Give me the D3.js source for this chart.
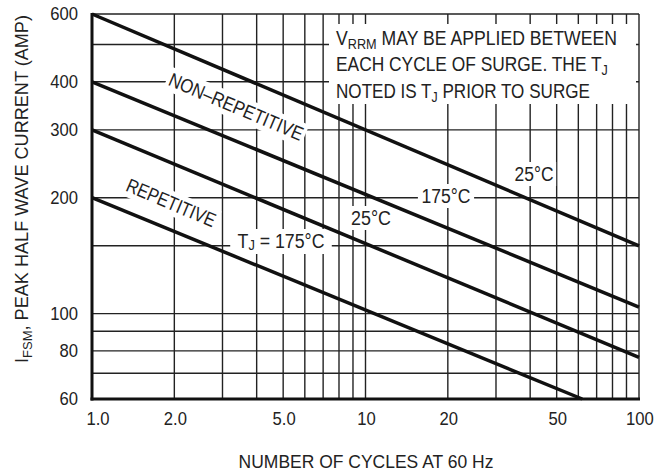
<!DOCTYPE html>
<html lang="en">
<head>
  <meta charset="UTF-8">
  <title>Peak Half Wave Current vs Cycles</title>
  <script src="https://d3js.org/d3.v7.min.js"></script>
  <style>
    body {
      margin: 0;
      background: #fff;
    }
    svg {
      display: block;
      font-family: "Liberation Sans", Arial, sans-serif;
      fill: #222;
    }
  </style>
</head>
<body>

<div id="chart"></div>

<script>
  // Data (cycles at 60 Hz, current in amps)
  const nonRep25C = [[1, 600], [100, 150]];
  const nonRep175C = [[1, 400], [100, 104]];
  const rep25C = [[1, 300], [100, 77]];
  const rep175C = [[1, 200], [62, 60]];

  const xTicks = [1, 2, 5, 10, 20, 50, 100];
  const xTickLabels = ["1.0", "2.0", "5.0", "10", "20", "50", "100"];
  const yTicks = [60, 80, 100, 200, 300, 400, 600];
  const xGrid = [1, 2, 3, 4, 5, 6, 7, 8, 9, 10, 20, 30, 40, 50, 60, 70, 80, 90, 100];
  const yGrid = [60, 70, 80, 90, 100, 150, 200, 300, 400, 500, 600];

  const width = 668, height = 472;
  const margin = {top: 14, right: 29, bottom: 73, left: 92};

  const svg = d3.select("#chart")
                .append("svg")
                .attr("width", width)
                .attr("height", height);

  const x = d3.scaleLog()
              .domain([1, 100])
              .range([margin.left, width - margin.right]);

  const y = d3.scaleLog()
              .domain([60, 600])
              .range([height - margin.bottom, margin.top]);

  // Text helper: parts are [string, isSubscript]; the text is squeezed
  // horizontally to look like the narrow datasheet font
  function addText(parent, o) {
    const g = parent.append("g");
    const t = g.append("text")
               .attr("text-anchor", o.anchor || "start")
               .attr("font-size", o.size);
    if (o.central) t.attr("dominant-baseline", "central");
    let sub = false;
    o.parts.forEach(p => {
      const s = t.append("tspan").text(p[0]);
      if (p[1]) { s.attr("font-size", o.size * 0.72).attr("dy", 4); sub = true; }
      else if (sub) { s.attr("dy", -4); sub = false; }
    });
    const b = t.node().getBBox();
    const k = o.width ? o.width / b.width : (o.squeeze || 1);
    g.attr("transform", `translate(${o.x},${o.y}) rotate(${o.rot || 0}) scale(${k},1)`);
    if (o.pad != null) {
      g.insert("rect", "text")
       .attr("x", b.x - o.pad).attr("y", b.y - 1)
       .attr("width", b.width + 2 * o.pad).attr("height", b.height + 2)
       .attr("fill", "#fff");
    }
    return g;
  }

  // Grid lines
  svg.append("g")
     .selectAll("line")
     .data(xGrid)
     .join("line")
     .attr("x1", d => x(d)).attr("x2", d => x(d))
     .attr("y1", y(60)).attr("y2", y(600))
     .attr("stroke", "#222")
     .attr("stroke-width", 1.4);

  svg.append("g")
     .selectAll("line")
     .data(yGrid)
     .join("line")
     .attr("x1", x(1)).attr("x2", x(100))
     .attr("y1", d => y(d)).attr("y2", d => y(d))
     .attr("stroke", "#222")
     .attr("stroke-width", 1.4);

  // White note box in the top right corner
  svg.append("rect")
     .attr("x", 329).attr("y", 24)
     .attr("width", 307).attr("height", 80)
     .attr("fill", "#fff");

  addText(svg, {x: 336, y: 45, size: 19.5, width: 281,
                parts: [["V"], ["RRM", true], [" MAY BE APPLIED BETWEEN"]]});
  addText(svg, {x: 336, y: 71, size: 19.5, width: 272,
                parts: [["EACH CYCLE OF SURGE. THE T"], ["J", true]]});
  addText(svg, {x: 336, y: 97.5, size: 19.5, width: 254,
                parts: [["NOTED IS T"], ["J", true], [" PRIOR TO SURGE"]]});

  // In-plot labels with white knockout boxes
  const angle = Math.atan2(y(150) - y(600), x(100) - x(1)) * 180 / Math.PI;

  addText(svg, {x: 236, y: 107, rot: angle, size: 19.5, width: 144, anchor: "middle",
                central: true, pad: 3, parts: [["NON–REPETITIVE"]]});
  addText(svg, {x: 171, y: 203, rot: angle, size: 19.5, width: 95, anchor: "middle",
                central: true, pad: 3, parts: [["REPETITIVE"]]});
  addText(svg, {x: 534, y: 174, size: 19.5, width: 39, anchor: "middle",
                central: true, pad: 3, parts: [["25°C"]]});
  addText(svg, {x: 446, y: 196, size: 19.5, width: 49, anchor: "middle",
                central: true, pad: 4, parts: [["175°C"]]});
  addText(svg, {x: 371, y: 218, size: 19.5, width: 40, anchor: "middle",
                central: true, pad: 3, parts: [["25°C"]]});
  addText(svg, {x: 281, y: 241, size: 19.5, width: 87, anchor: "middle",
                central: true, pad: 8, parts: [["T"], ["J", true], [" = 175°C"]]});

  // Curves
  const line = d3.line()
                 .x(d => x(d[0]))
                 .y(d => y(d[1]));

  svg.append("g")
     .selectAll("path")
     .data([nonRep25C, nonRep175C, rep25C, rep175C])
     .join("path")
     .attr("d", line)
     .attr("fill", "none")
     .attr("stroke", "#111")
     .attr("stroke-width", 3.5);

  // Heavy left and bottom axis lines
  svg.append("line")
     .attr("x1", x(1)).attr("x2", x(1))
     .attr("y1", y(600) - 1).attr("y2", y(60) + 1.5)
     .attr("stroke", "#111").attr("stroke-width", 3);
  svg.append("line")
     .attr("x1", x(1) - 1.5).attr("x2", x(100) + 1)
     .attr("y1", y(60)).attr("y2", y(60))
     .attr("stroke", "#111").attr("stroke-width", 3);

  // Tick labels
  const xLab = svg.append("g");
  xTicks.forEach((d, i) => {
    addText(xLab, {x: x(d) + (i === 0 ? 6 : 1), y: 425, size: 18.5, squeeze: 0.9,
                   anchor: "middle", parts: [[xTickLabels[i]]]});
  });

  const yLab = svg.append("g");
  yTicks.forEach(d => {
    addText(yLab, {x: 78, y: y(d), size: 18.5, squeeze: 0.9,
                   anchor: "end", central: true, parts: [[String(d)]]});
  });

  // Axis titles
  addText(svg, {x: 366, y: 468, size: 18, width: 255, anchor: "middle",
                parts: [["NUMBER OF CYCLES AT 60 Hz"]]});

  addText(svg, {x: 28, y: 189, rot: -90, size: 18, width: 348, anchor: "middle",
                parts: [["I"], ["FSM", true], [", PEAK HALF WAVE CURRENT (AMP)"]]});
</script>

</body>
</html>
